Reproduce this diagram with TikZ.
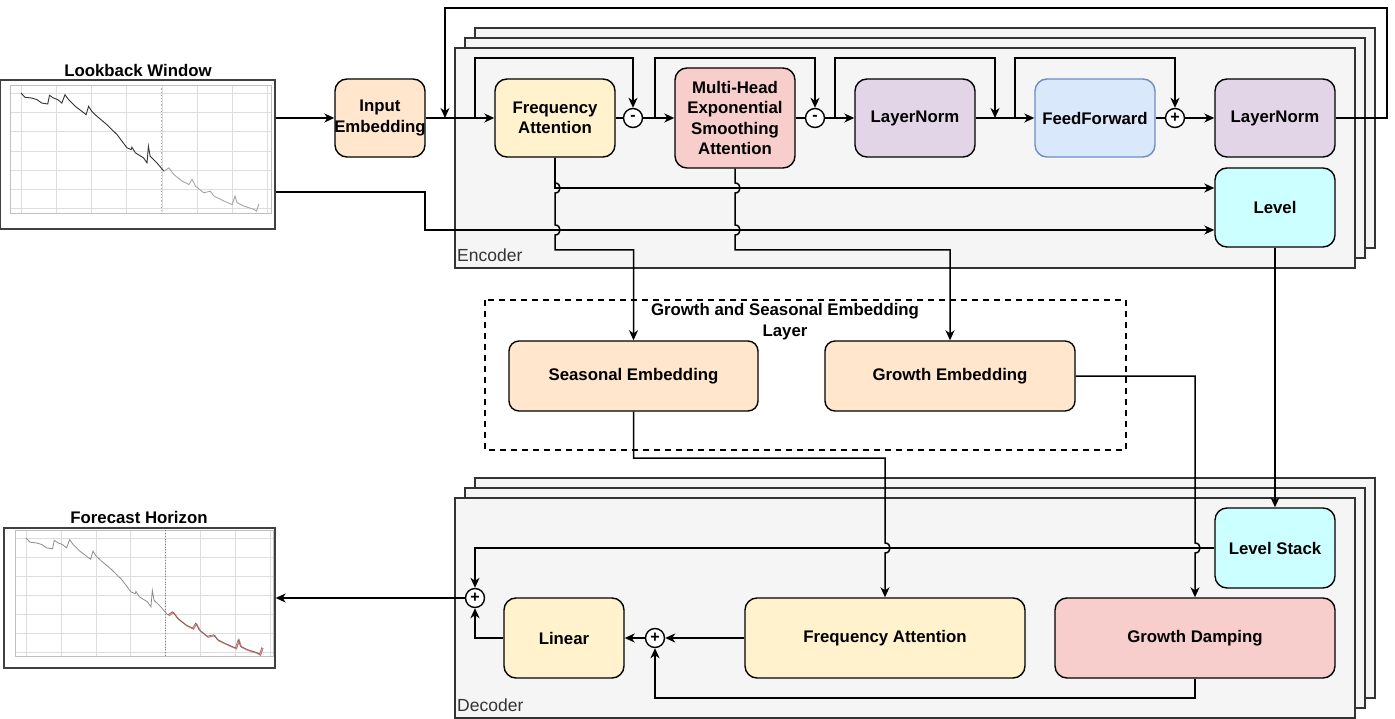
\documentclass[tikz,border=0pt]{standalone}
\usepackage{fontspec}
\setmainfont{Liberation Sans}
\usetikzlibrary{arrows.meta,calc}
\definecolor{cOrange}{HTML}{FFE6CC}
\definecolor{cYellow}{HTML}{FFF2CC}
\definecolor{cRed}{HTML}{F8CECC}
\definecolor{cPurple}{HTML}{E1D5E7}
\definecolor{cBlue}{HTML}{DAE8FC}
\definecolor{cBlueS}{HTML}{6C8EBF}
\definecolor{cCyan}{HTML}{CCFFFF}
\definecolor{cStack}{HTML}{F5F5F5}
\definecolor{cLabel}{HTML}{333333}
\definecolor{cGrid}{HTML}{DDDDDD}
\definecolor{cFcRed}{HTML}{E07070}

\newcommand{\myseriesA}[1]{\draw[#1] (0,0) -- (0.11,0.22) -- (0.30,0.26) -- (0.45,0.34) -- (0.59,0.52) -- (0.76,0.57) -- (0.81,0.12) -- (0.92,0.26) -- (1.04,0.34) -- (1.16,0.52) -- (1.25,0.09) -- (1.35,0.34) -- (1.54,0.69) -- (1.73,0.95) -- (1.85,1.12) -- (1.92,0.69) -- (2.01,0.95) -- (2.16,1.21) -- (2.44,1.64) -- (2.73,2.16) -- (3.01,2.84) -- (3.13,2.93) -- (3.15,2.81) -- (3.25,3.10) -- (3.48,3.36) -- (3.58,3.62) -- (3.62,2.76) -- (3.67,3.28) -- (3.86,3.62) -- (4.06,4.05);}
\newcommand{\myseriesB}[1]{\draw[#1] (4.06,4.05) -- (4.20,3.88) -- (4.34,4.22) -- (4.58,4.57) -- (4.77,4.74) -- (4.86,4.48) -- (4.96,4.83) -- (5.19,5.17) -- (5.38,5.09) -- (5.48,5.34) -- (5.77,5.60) -- (6.00,5.78) -- (6.08,5.34) -- (6.14,5.69) -- (6.33,5.86) -- (6.62,6.03) -- (6.69,6.12) -- (6.76,5.74);}
\newcommand{\mychartgrid}{%
  \foreach \i in {0,...,7} {\draw[cGrid, line width=0.6pt] (\i,-0.4) -- (\i,6.25);}
  \foreach \j in {0,...,6} {\draw[cGrid, line width=0.6pt] (-0.3,\j) -- (7.1,\j);}
  \draw[black!25, line width=0.6pt] (-0.3,-0.4) rectangle (7.1,6.25);
}

\begin{document}
\begin{tikzpicture}[x=1pt,y=-1pt,
  box/.style={draw=black, line width=1.4pt, rounded corners=12pt, inner sep=0pt, align=center,
    font=\bfseries\fontsize{16.8}{20.5}\selectfont},
  conn/.style={line width=1.5pt, draw=black},
  arr/.style={conn, -{Stealth[length=10pt,width=9pt,inset=3pt]}},
  circ/.style={circle, draw=black, fill=white, line width=1.4pt, minimum size=19pt, inner sep=0pt,
    font=\bfseries\fontsize{16}{16}\selectfont},
  stackrect/.style={draw=black!80, fill=cStack, line width=1.4pt},
  chartbox/.style={draw=black!75, fill=white, line width=1.3pt, inner sep=0pt},
  ttl/.style={font=\bfseries\fontsize{16.8}{20.5}\selectfont, align=center, inner sep=0pt},
  grp/.style={font=\fontsize{17.5}{20}\selectfont, text=cLabel, inner sep=0pt, anchor=west},
  dashbox/.style={draw=black, line width=1.5pt, dash pattern=on 6pt off 5pt}
]
\useasboundingbox (0,0) rectangle (1395,719);

% ---------- stacks ----------
\foreach \d in {20,10,0} {\draw[stackrect] (455+\d,48-\d) rectangle (1355+\d,268-\d);}
\foreach \d in {20,10,0} {\draw[stackrect] (455+\d,498-\d) rectangle (1355+\d,718-\d);}
\node[grp] (enclbl) at (457,255) {Encoder};
\node[grp] (declbl) at (457,705) {Decoder};

% ---------- dashed group ----------
\draw[dashbox] (485,300) rectangle (1126,450);
\node[ttl] (grptitle) at (785,321.5) {Growth and Seasonal Embedding\\Layer};

% ---------- charts ----------
\node[chartbox, minimum width=275pt, minimum height=149pt] (lb) at (137.5,154.5) {};
\node[ttl] (lbt) at (138,70) {Lookback Window};
\begin{scope}[shift={(21,93)}, x=35.2pt, y=-19.3pt]
  \mychartgrid
  \draw[black!30, line width=1.2pt, dotted] (4,-0.4) -- (4,6.25);
  \myseriesA{black!80, line width=0.9pt}
  \myseriesB{black!35, line width=0.9pt}
\end{scope}

\node[chartbox, minimum width=271pt, minimum height=140pt] (fh) at (139.5,598) {};
\node[ttl] (fht) at (139,517) {Forecast Horizon};
\begin{scope}[shift={(26,538)}, x=34.9pt, y=-19.0pt]
  \mychartgrid
  \draw[black!50, line width=0.7pt, dotted] (4,-0.4) -- (4,6.25);
  \myseriesA{black!45, line width=0.8pt}
  \begin{scope}[shift={(0.03,0.05)}]
    \myseriesB{cFcRed, line width=1.2pt}
  \end{scope}
  \myseriesB{black!60, line width=0.6pt}
\end{scope}

% ---------- encoder nodes ----------
\node[box, fill=cOrange, minimum width=90pt, minimum height=78pt] (inemb) at (380,118) {};
\node[ttl] (inembt) at (inemb) {Input\\Embedding};
\node[box, fill=cYellow, minimum width=120pt, minimum height=78pt] (fa) at (555,118) {Frequency\\Attention};
\node[circ] (m1) at (633,118) {-};
\node[box, fill=cRed, minimum width=120pt, minimum height=100pt] (mh) at (735,118) {Multi-Head\\Exponential\\Smoothing\\Attention};
\node[circ] (m2) at (815,118) {-};
\node[box, fill=cPurple, minimum width=120pt, minimum height=78pt] (ln1) at (915,118) {LayerNorm};
\node[box, draw=cBlueS, fill=cBlue, minimum width=120pt, minimum height=78pt] (ff) at (1095,118) {FeedForward};
\node[circ] (p1) at (1175,118) {+};
\node[box, fill=cPurple, minimum width=120pt, minimum height=78pt] (ln2) at (1275,118) {LayerNorm};
\node[box, fill=cCyan, minimum width=120pt, minimum height=79pt] (lvl) at (1275,207.5) {Level};

% ---------- embedding layer nodes ----------
\node[box, rounded corners=10pt, fill=cOrange, minimum width=249pt, minimum height=70pt] (se) at (633.5,376) {Seasonal Embedding};
\node[box, rounded corners=10pt, fill=cOrange, minimum width=250pt, minimum height=70pt] (ge) at (950,376) {Growth Embedding};

% ---------- decoder nodes ----------
\node[box, fill=cCyan, minimum width=120pt, minimum height=80pt] (ls) at (1275,548) {Level Stack};
\node[box, fill=cRed, minimum width=280pt, minimum height=80pt] (gd) at (1195,638) {Growth Damping};
\node[box, fill=cYellow, minimum width=280pt, minimum height=80pt] (dfa) at (885,638) {Frequency Attention};
\node[box, fill=cYellow, minimum width=120pt, minimum height=80pt] (lin) at (564,638) {Linear};
\node[circ] (p2) at (655,638) {+};
\node[circ] (p3) at (475,598) {+};

% ---------- encoder connectors ----------
\draw[arr] (lb.east |- inemb.west) -- (inemb.west);
\draw[arr] (inemb.east) -- (fa.west);
\coordinate (fbR) at (1387,8);
\coordinate (fbL) at (445,118);
\draw[arr] (ln2.east) -| (fbR) -| (fbL);

\coordinate (s1) at (475,118); \coordinate (t1) at (633,58);
\draw[arr] (s1) |- (t1) -- (m1.north);
\draw[conn] (fa.east) -- (m1.west);
\draw[arr] (m1.east) -- (mh.west);

\coordinate (s2) at (655,118); \coordinate (t2) at (815,58);
\draw[arr] (s2) |- (t2) -- (m2.north);
\draw[conn] (mh.east) -- (m2.west);
\draw[arr] (m2.east) -- (ln1.west);

\coordinate (s3) at (835,118); \coordinate (t3) at (995,58); \coordinate (e3) at (995,118);
\draw[arr] (s3) |- (t3) -- (e3);
\draw[arr] (ln1.east) -- (ff.west);

\coordinate (s4) at (1015,118); \coordinate (t4) at (1175,58);
\draw[arr] (s4) |- (t4) -- (p1.north);
\draw[conn] (ff.east) -- (p1.west);
\draw[arr] (p1.east) -- (ln2.west);

% to Level
\coordinate (h1) at (555,188);
\draw[arr] (fa.south) -- (h1) -- ([yshift=19.5pt]lvl.west);
\coordinate (k2) at (425,230);
\draw[arr] ([yshift=-37.5pt]lb.east) -| (k2) -- ([yshift=-22.5pt]lvl.west);

% to embeddings (with hops)
\draw[arr] (fa.south) -- (555,183) .. controls (561.7,183) and (561.7,193) .. (555,193)
  -- (555,225) .. controls (561.7,225) and (561.7,235) .. (555,235) -- (555,250) -| (se.north);
\draw[arr] (mh.south) -- (735,183) .. controls (741.7,183) and (741.7,193) .. (735,193)
  -- (735,225) .. controls (741.7,225) and (741.7,235) .. (735,235) -- (735,250) -| (ge.north);

% level to level stack
\draw[arr] (lvl.south) -- (ls.north);

% ---------- decoder connectors ----------
\draw[arr] (se.south) |- (885,458) -- (885,543) .. controls (891.7,543) and (891.7,553) .. (885,553) -- (dfa.north);
\draw[arr] (ge.east) -- (1195,376) -- (1195,543) .. controls (1201.7,543) and (1201.7,553) .. (1195,553) -- (gd.north);
\draw[arr] (ls.west) -| (p3.north);
\draw[arr] (lin.west) -| (p3.south);
\draw[arr] (dfa.west) -- (p2.east);
\draw[arr] (p2.west) -- (lin.east);
\coordinate (k3) at (1195,698);
\draw[arr] (gd.south) -- (k3) -| (p2.south);
\draw[arr] (p3.west) -- (fh.east);
\end{tikzpicture}
\end{document}
